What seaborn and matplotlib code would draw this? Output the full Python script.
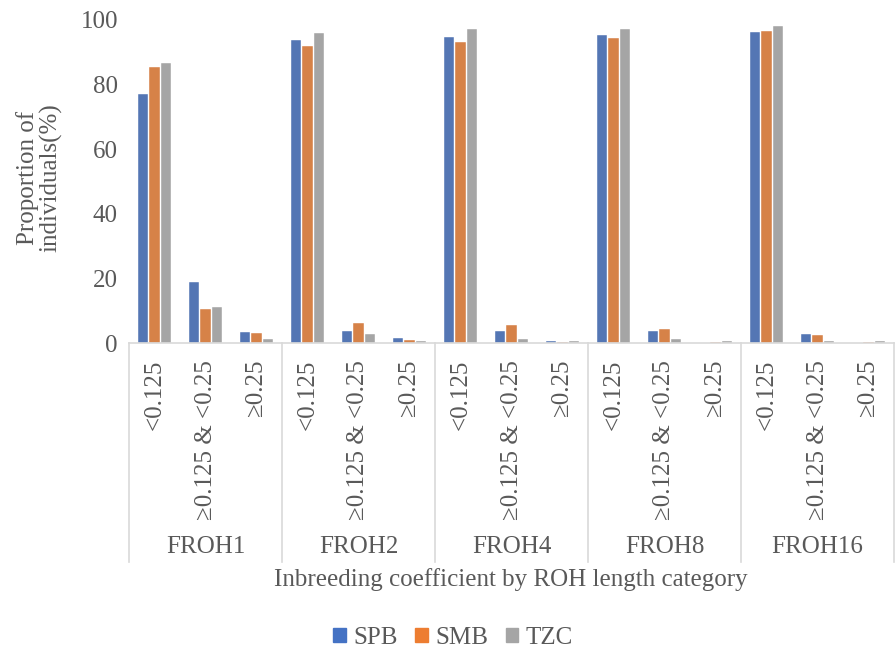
import numpy as np
import pandas as pd
import matplotlib
matplotlib.use("Agg")
import matplotlib.pyplot as plt
import matplotlib.transforms as mtransforms
import seaborn as sns

# data
groups = ["FROH1", "FROH2", "FROH4", "FROH8", "FROH16"]
classes = ["<0.125", "≥0.125 & <0.25", "≥0.25"]
series = ["SPB", "SMB", "TZC"]
colors = ["#4472C4", "#ED7D31", "#A5A5A5"]

spb = [77.0, 19.0, 3.3, 93.8, 3.7, 1.5, 94.6, 3.7, 0.6, 95.4, 3.7, 0.0, 96.4, 2.8, 0.0]
smb = [85.5, 10.6, 3.0, 92.0, 6.2, 1.0, 93.2, 5.6, 0.4, 94.5, 4.2, 0.4, 96.5, 2.4, 0.4]
tzc = [86.8, 11.1, 1.2, 95.9, 2.8, 0.6, 97.3, 1.2, 0.6, 97.3, 1.2, 0.6, 98.1, 0.6, 0.6]

# long table
keys = [f"{g}|{c}" for g in groups for c in classes]
df = pd.DataFrame({
    "key": keys * 3,
    "series": np.repeat(series, len(keys)),
    "value": spb + smb + tzc,
})

plt.rcParams["font.family"] = ["Liberation Serif", "DejaVu Serif"]
text_color = "#595959"
line_color = "#D9D9D9"
fs = 18

fig = plt.figure(figsize=(8.96, 6.5), dpi=100)
ax = fig.add_axes([129 / 896, 1 - 343 / 650, (894 - 129) / 896, (343 - 20) / 650])

sns.barplot(data=df, x="key", y="value", hue="series", order=keys, hue_order=series,
            palette=colors, width=0.66, gap=0.1, edgecolor="white", linewidth=0.3,
            ax=ax, legend=False)

ax.set_xlim(-0.5, len(keys) - 0.5)
ax.set_ylim(0, 100)
ax.set_yticks([0, 20, 40, 60, 80, 100])
ax.tick_params(axis="y", length=0, pad=8, labelsize=fs, labelcolor=text_color)
ax.tick_params(axis="x", length=0, pad=12, labelsize=fs, labelcolor=text_color)
ax.set_xticks(range(len(keys)))
ax.set_xticklabels([k.split("|")[1] for k in keys], rotation=90, va="top")
for s in ["top", "right", "left"]:
    ax.spines[s].set_visible(False)
ax.spines["bottom"].set_color(line_color)
ax.spines["bottom"].set_linewidth(1.2)
ax.set_xlabel("")
ax.set_ylabel("")
fig.text(39 / 896, 1 - 178 / 650, "Proportion of\nindividuals(%)", rotation=90,
         ha="center", va="center", fontsize=fs, color=text_color, linespacing=1.0)

# multi-level category axis
trans = mtransforms.blended_transform_factory(ax.transData, ax.transAxes)
ax_h = 343 - 20
y_line = -(562 - 343) / ax_h
for i in range(len(groups) + 1):
    x = i * 3 - 0.5
    ax.plot([x, x], [0, y_line], transform=trans, color=line_color, lw=1.2, clip_on=False)
for i, g in enumerate(groups):
    ax.text(i * 3 + 1, -(547 - 343) / ax_h, g, transform=trans, ha="center", va="center",
            fontsize=fs, color=text_color)

fig.text(511 / 896, 1 - 580 / 650, "Inbreeding coefficient by ROH length category",
         ha="center", va="center", fontsize=fs, color=text_color)

handles = [plt.Rectangle((0, 0), 1, 1, color=c) for c in colors]
fig.legend(handles, series, loc="center", bbox_to_anchor=(453 / 896, 1 - 638 / 650), ncol=3,
           frameon=False, fontsize=fs, handlelength=0.5, handleheight=0.5,
           handletextpad=0.3, columnspacing=0.7, labelcolor=text_color)

fig.savefig("out.png", dpi=100)
